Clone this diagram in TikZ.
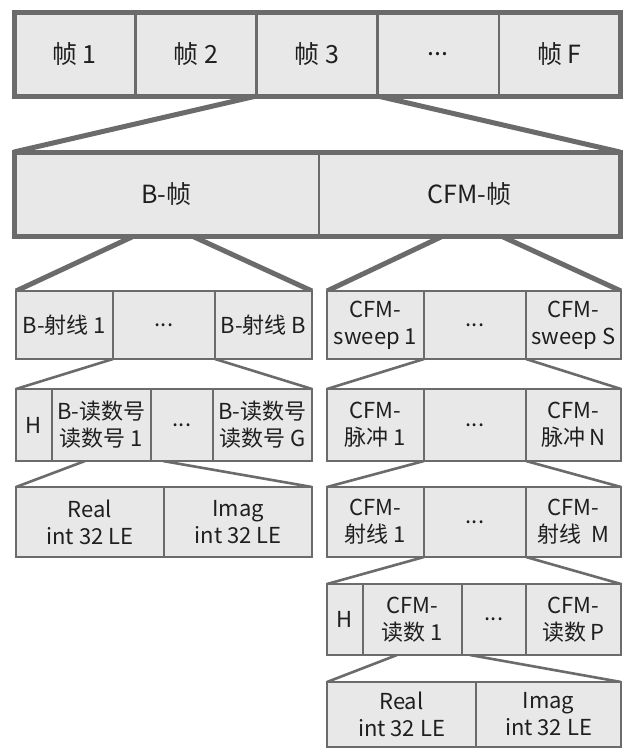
\documentclass[tikz,border=0pt]{standalone}
\usepackage{fontspec}
\setmainfont{Noto Sans CJK SC}
\usetikzlibrary{backgrounds}
\definecolor{edgegray}{HTML}{6B6B6B}
\definecolor{cellfill}{HTML}{E8E8E8}
\newcommand{\mkcell}[7]{\node[#1, minimum width={#5pt-#3pt}, minimum height={#6pt-#4pt}] (#2) at ({(#3+#5)/2},{(#4+#6)/2}) {#7};}
\begin{document}
\begin{tikzpicture}[x=1pt,y=-1pt,
  cell/.style={draw=edgegray, fill=cellfill, line width=2.6pt, inner sep=0pt, outer sep=0pt, align=center, font=\fontsize{22}{27}\selectfont, text=black!88},
  bigcell/.style={cell, line width=2.6pt, font=\fontsize{25}{30}\selectfont},
  frame/.style={draw=edgegray, line width=5pt},
  link/.style={draw=edgegray, line width=2.6pt},
  biglink/.style={draw=edgegray, line width=5pt}]
\useasboundingbox (0,0) rectangle (628,750);
% row 1
\mkcell{bigcell}{r1a}{14}{12}{135.2}{96}{帧 1}
\mkcell{bigcell}{r1b}{135.2}{12}{256.4}{96}{帧 2}
\mkcell{bigcell}{r1c}{256.4}{12}{377.6}{96}{帧 3}
\mkcell{bigcell}{r1d}{377.6}{12}{498.8}{96}{...}
\mkcell{bigcell}{r1e}{498.8}{12}{620}{96}{帧 F}
\draw[frame] (r1a.north west) rectangle (r1e.south east);
% row 2
\mkcell{bigcell}{r2a}{14}{152}{319}{236}{B-帧}
\mkcell{bigcell}{r2b}{319}{152}{620}{236}{CFM-帧}
\draw[frame] (r2a.north west) rectangle (r2b.south east);
% row 3
\mkcell{cell}{r3a}{16}{291}{113}{359}{B-射线 1}
\mkcell{cell}{r3b}{113}{291}{215}{359}{...}
\mkcell{cell}{r3c}{215}{291}{312}{359}{B-射线 B}
\mkcell{cell}{r3d}{327}{291}{424}{359}{CFM-\\sweep 1}
\mkcell{cell}{r3e}{424}{291}{526}{359}{...}
\mkcell{cell}{r3f}{526}{291}{621}{359}{CFM-\\sweep S}
% row 4
\mkcell{cell}{r4a}{16}{389}{52}{461}{H}
\mkcell{cell}{r4b}{52}{389}{151}{461}{B-读数号\\读数号 1}
\mkcell{cell}{r4c}{151}{389}{213}{461}{...}
\mkcell{cell}{r4d}{213}{389}{312}{461}{B-读数号\\读数号 G}
\mkcell{cell}{r4e}{327}{389}{424}{461}{CFM-\\脉冲 1}
\mkcell{cell}{r4f}{424}{389}{526}{461}{...}
\mkcell{cell}{r4g}{526}{389}{621}{461}{CFM-\\脉冲 N}
% row 5
\mkcell{cell}{r5a}{16}{487}{164}{557}{Real\\int 32 LE}
\mkcell{cell}{r5b}{164}{487}{312}{557}{Imag\\int 32 LE}
\mkcell{cell}{r5c}{327}{487}{424}{557}{CFM-\\射线 1}
\mkcell{cell}{r5d}{424}{487}{526}{557}{...}
\mkcell{cell}{r5e}{526}{487}{621}{557}{CFM-\\射线\ \ M}
% row 6
\mkcell{cell}{r6a}{327}{584}{363}{655}{H}
\mkcell{cell}{r6b}{363}{584}{462}{655}{CFM-\\读数 1}
\mkcell{cell}{r6c}{462}{584}{526}{655}{...}
\mkcell{cell}{r6d}{526}{584}{621}{655}{CFM-\\读数 P}
% row 7
\mkcell{cell}{r7a}{327}{682}{476}{747}{Real\\int 32 LE}
\mkcell{cell}{r7b}{476}{682}{621}{747}{Imag\\int 32 LE}
% free ends of connectors
\coordinate (c1) at (134,236);
\coordinate (c2) at (192,236);
\coordinate (c3) at (443,236);
\coordinate (c4) at (501,236);
\coordinate (c5) at (85,461);
\coordinate (c6) at (163,461);
\coordinate (c7) at (397,655);
\coordinate (c8) at (470,655);
\begin{scope}[on background layer]
\fill[white] (0,0) rectangle (628,750);
\draw[biglink] (r1c.south west) -- (r2a.north west);
\draw[biglink] (r1d.south west) -- (r2b.north east);
\draw[biglink] (c1) -- (r3a.north west);
\draw[biglink] (c2) -- (r3c.north east);
\draw[biglink] (c3) -- (r3d.north west);
\draw[biglink] (c4) -- (r3f.north east);
\draw[link] (r3a.south east) -- (r4a.north west);
\draw[link] (r3c.south west) -- (r4d.north east);
\draw[link] (r3e.south west) -- (r4e.north west);
\draw[link] (r3e.south east) -- (r4g.north east);
\draw[link] (c5) -- (r5a.north west);
\draw[link] (c6) -- (r5b.north east);
\draw[link] (r4f.south west) -- (r5c.north west);
\draw[link] (r4f.south east) -- (r5e.north east);
\draw[link] (r5d.south west) -- (r6a.north west);
\draw[link] (r5d.south east) -- (r6d.north east);
\draw[link] (c7) -- (r7a.north west);
\draw[link] (c8) -- (r7b.north east);
\end{scope}
\end{tikzpicture}
\end{document}
